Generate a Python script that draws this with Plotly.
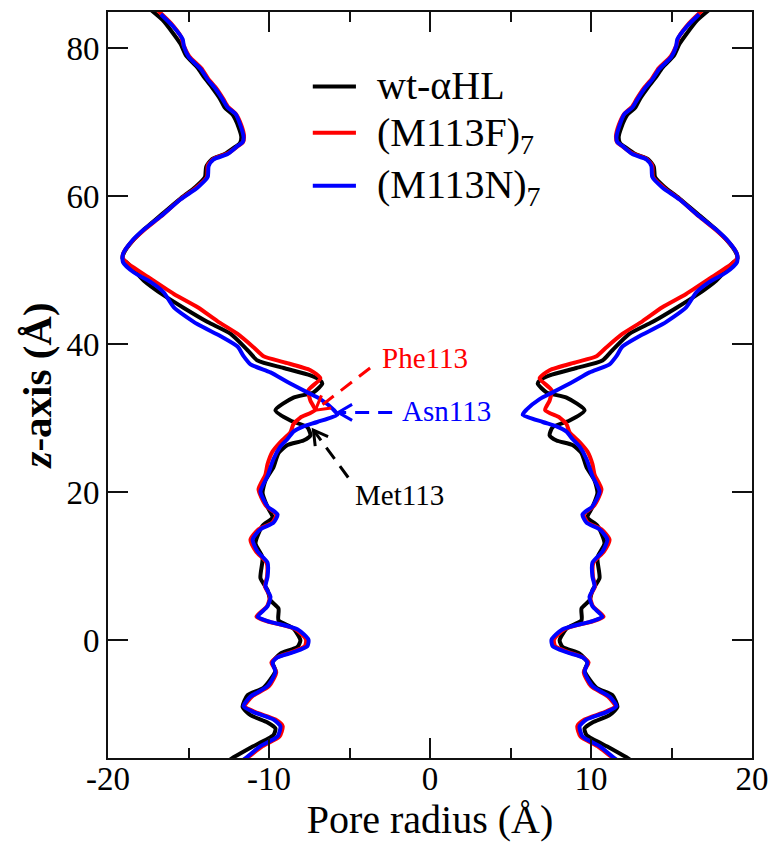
import math
import plotly.graph_objects as go

# ---------------- data (z in Å, pore radius in Å) ----------------
z_wt = [85.3, 83.8, 82.0, 80.6, 79.0, 77.4, 76.0, 74.6, 73.2, 72.0, 71.0, 69.4, 68.0, 67.2, 66.6,
        65.7, 65.0, 64.0, 62.6, 61.3, 59.6, 57.4, 55.6, 53.9, 52.4, 51.6, 50.9, 48.6, 46.6, 44.9,
        43.0, 41.4, 39.2, 37.8, 36.8, 35.8, 35.1, 34.7, 33.5, 32.8, 31.1, 29.7, 28.8, 27.7, 27.0,
        26.4, 25.3, 23.4, 21.6, 19.9, 18.0, 16.6, 15.5, 13.1, 11.2, 8.4, 6.8, 5.4, 4.3, 2.7,
        1.6, 0.0, -0.9, -1.8, -3.0, -4.1, -6.4, -7.4, -9.0, -10.1, -11.1, -11.9, -12.8, -14.5,
        -15.8, -16.4]
r_wt = [17.40, 16.60, 15.95, 15.50, 15.15, 14.45, 14.00, 13.50, 13.05, 12.75, 12.25, 11.90, 11.72,
        11.80, 12.15, 12.75, 13.55, 13.90, 13.98, 14.55, 15.55, 16.75, 17.72, 18.50, 19.00, 19.10,
        18.76, 17.77, 16.53, 15.29, 13.81, 12.38, 11.33, 10.71, 9.10, 7.43, 6.81, 6.69, 7.24, 8.48,
        9.60, 8.67, 7.62, 7.43, 7.86, 8.85, 9.41, 9.72, 10.22, 10.40, 10.09, 9.78, 10.40, 10.84,
        10.40, 10.53, 10.09, 9.91, 9.41, 9.41, 8.48, 8.05, 8.24, 9.29, 9.78, 9.60, 10.34, 11.33,
        11.64, 11.15, 10.09, 9.60, 9.72, 11.15, 12.20, 12.60]

z_f = [85.2, 83.4, 81.5, 80.4, 78.9, 77.3, 75.9, 74.6, 73.2, 72.1, 71.1, 69.6, 68.1, 67.3, 66.8,
       65.8, 65.1, 64.2, 62.6, 61.2, 59.6, 57.3, 55.5, 53.8, 52.3, 51.6, 50.8, 49.1, 46.8, 45.0,
       43.1, 41.4, 39.6, 38.4, 37.6, 36.5, 35.4, 33.8, 32.4, 31.1, 30.1, 29.2, 28.1, 26.8, 25.5,
       23.8, 22.4, 20.4, 18.2, 17.0, 15.9, 15.0, 13.6, 12.0, 10.5, 8.6, 7.3, 5.9, 4.6, 3.2, 2.6,
       1.5, 0.1, -0.8, -1.6, -2.3, -3.0, -4.3, -6.2, -7.6, -8.9, -9.7, -10.7, -11.6, -13.0,
       -14.3, -15.7, -16.4]
r_f = [16.95, 16.10, 15.45, 15.30, 14.95, 14.20, 13.78, 13.28, 12.85, 12.55, 12.05, 11.72, 11.55,
       11.62, 11.92, 12.55, 13.40, 13.80, 13.85, 14.50, 15.50, 16.70, 17.72, 18.55, 19.05, 19.07,
       18.70, 17.52, 15.91, 14.43, 13.19, 11.95, 10.96, 10.34, 9.10, 7.43, 6.81, 7.55, 7.43, 7.15,
       8.05, 8.48, 8.67, 9.29, 9.78, 10.09, 10.22, 10.65, 10.20, 9.55, 9.80, 10.65, 11.15, 10.80,
       10.15, 10.12, 10.25, 9.95, 10.12, 10.78, 10.15, 8.35, 7.70, 7.78, 8.60, 9.50, 9.85, 9.55,
       10.00, 11.05, 11.50, 10.85, 9.60, 9.15, 9.35, 10.40, 11.25, 11.70]

z_n = [84.6, 83.0, 81.2, 80.3, 78.8, 77.2, 75.8, 74.5, 73.1, 72.0, 71.1, 69.5, 68.0, 67.3, 66.8,
       65.7, 65.0, 64.1, 62.6, 61.2, 59.6, 57.3, 55.5, 53.8, 52.2, 51.1, 49.7, 48.4, 47.0, 45.0,
       42.7, 41.1, 39.7, 38.4, 37.3, 36.2, 34.9, 33.5, 32.6, 31.2, 30.5, 29.5, 28.9, 28.2, 27.2,
       26.2, 24.5, 22.2, 20.1, 18.1, 17.0, 15.9, 15.0, 13.6, 12.0, 10.5, 8.6, 7.3, 5.9, 4.6, 3.2,
       2.6, 1.5, 0.1, -0.8, -1.6, -2.3, -3.0, -4.3, -6.2, -7.6, -8.9, -9.7, -10.7, -11.6, -13.0,
       -14.3, -15.7, -16.4]
r_n = [16.72, 15.98, 15.36, 15.29, 14.98, 14.24, 13.81, 13.31, 12.88, 12.57, 12.07, 11.76, 11.58,
       11.64, 11.95, 12.57, 13.44, 13.75, 13.81, 14.43, 15.48, 16.72, 17.77, 18.58, 19.07, 19.07,
       18.39, 17.34, 16.53, 15.91, 14.43, 13.00, 11.95, 11.58, 11.15, 9.91, 8.85, 7.62, 6.81, 6.01,
       5.76, 7.00, 7.86, 8.48, 8.85, 9.29, 9.72, 10.09, 10.53, 10.09, 9.47, 9.72, 10.53, 11.02,
       10.71, 10.09, 10.09, 10.22, 9.91, 10.09, 10.71, 10.09, 8.24, 7.55, 7.62, 8.48, 9.47, 9.78,
       9.60, 10.09, 11.15, 11.58, 10.96, 9.72, 9.29, 9.47, 10.53, 11.33, 11.75]

series_names = ["wt-αHL", "(M113F)<sub>7</sub>", "(M113N)<sub>7</sub>"]
series_colors = ["#000000", "#ff0000", "#0000ff"]

# legend layout (paper coordinates of the plot area)
legend_line_x = [0.318, 0.385]
legend_text_x = 0.414
legend_line_y = [0.900, 0.838, 0.767]
legend_text_y = [0.901, 0.835, 0.766]

# annotations: label, colour, label position, arrow tail, arrow tip (data units)
ann_labels = ["Phe113", "Asn113", "Met113"]
ann_colors = ["#ff0000", "#0000ff", "#000000"]
ann_text_x = [-0.3, 1.05, -1.9]
ann_text_y = [38.2, 31.0, 19.6]
ann_tail_x = [-3.72, -2.35, -5.08]
ann_tail_y = [36.8, 30.8, 22.0]
ann_tip_x = [-7.12, -5.70, -7.24]
ann_tip_y = [31.1, 30.8, 28.4]

x_ticks = [-20, -10, 0, 10, 20]
x_ticktext = ["-20", "-10", "0", "10", "20"]
y_ticks = [0, 20, 40, 60, 80]
y_ticktext = ["0", "20", "40", "60", "80"]
x_range = [-20, 20]
y_range = [-15.9, 84.9]

FONT = "Liberation Serif"
W, H = 768, 846
M = dict(l=108, r=16, t=12, b=88)
AX = "#111111"

fig = go.Figure()
for name, z, r, col in zip(series_names, [z_wt, z_f, z_n], [r_wt, r_f, r_n], series_colors):
    xs = [-v for v in r] + [None] + list(r)
    ys = list(z) + [None] + list(z)
    fig.add_trace(go.Scatter(x=xs, y=ys, mode="lines", name=name, showlegend=False,
                             line=dict(color=col, width=4, shape="spline", smoothing=0.6),
                             hoverinfo="skip"))

# pixel scale factors for arrowheads
pw = W - M["l"] - M["r"]
ph = H - M["t"] - M["b"]
sx = pw / (x_range[1] - x_range[0])
sy = ph / (y_range[1] - y_range[0])

shapes = []
annotations = []
for lab, col, tx, ty, ax0, ay0, ax1, ay1 in zip(ann_labels, ann_colors, ann_text_x, ann_text_y,
                                                ann_tail_x, ann_tail_y, ann_tip_x, ann_tip_y):
    shapes.append(dict(type="line", xref="x", yref="y", x0=ax0, y0=ay0, x1=ax1, y1=ay1,
                       line=dict(color=col, width=3, dash="14px,9px")))
    dxp = (ax1 - ax0) * sx
    dyp = (ay1 - ay0) * sy
    L = math.hypot(dxp, dyp)
    ux, uy = dxp / L, dyp / L
    ang = math.radians(30)
    hl = 16
    pts = []
    for s in (1, -1):
        c, si = math.cos(s * ang), math.sin(s * ang)
        bx = -(ux * c - uy * si) * hl
        by = -(ux * si + uy * c) * hl
        pts.append((ax1 + bx / sx, ay1 + by / sy))
    path = f"M {pts[0][0]},{pts[0][1]} L {ax1},{ay1} L {pts[1][0]},{pts[1][1]}"
    shapes.append(dict(type="path", xref="x", yref="y", path=path,
                       line=dict(color=col, width=3)))
    annotations.append(dict(x=tx, y=ty, xref="x", yref="y", text=lab, showarrow=False,
                            font=dict(family=FONT, size=29, color=col)))

# legend (drawn in the plot area)
for name, col, ly, ty in zip(series_names, series_colors, legend_line_y, legend_text_y):
    shapes.append(dict(type="line", xref="paper", yref="paper",
                       x0=legend_line_x[0], x1=legend_line_x[1], y0=ly, y1=ly,
                       line=dict(color=col, width=4)))
    annotations.append(dict(x=legend_text_x, y=ty, xref="paper", yref="paper", text=name,
                            showarrow=False, xanchor="left", yanchor="middle",
                            font=dict(family=FONT, size=40, color="#000000")))

axis_common = dict(showline=True, linewidth=2, linecolor=AX, mirror="ticks",
                   ticks="inside", ticklen=20, tickwidth=2, tickcolor=AX,
                   showgrid=False, zeroline=False, ticklabeloverflow="allow",
                   automargin=False,
                   tickfont=dict(family=FONT, size=33, color="#000000"))

fig.update_layout(
    width=W, height=H, margin=M,
    paper_bgcolor="white", plot_bgcolor="white",
    xaxis=dict(range=x_range, tickvals=x_ticks, ticktext=x_ticktext, **axis_common,
               ticklabelstandoff=-10,
               minor=dict(ticks="inside", ticklen=10, tickwidth=2, tickcolor=AX,
                          dtick=5, tick0=-20),
               title=dict(text="Pore radius (Å)", font=dict(family=FONT, size=40, color="#000000"),
                          standoff=4)),
    yaxis=dict(range=y_range, tickvals=y_ticks, ticktext=y_ticktext, **axis_common,
               title=dict(text="<b><i>z</i>-axis (Å)</b>",
                          font=dict(family=FONT, size=41, color="#000000"), standoff=2)),
    showlegend=False,
    shapes=shapes, annotations=annotations,
)

fig.write_html("out.html")
